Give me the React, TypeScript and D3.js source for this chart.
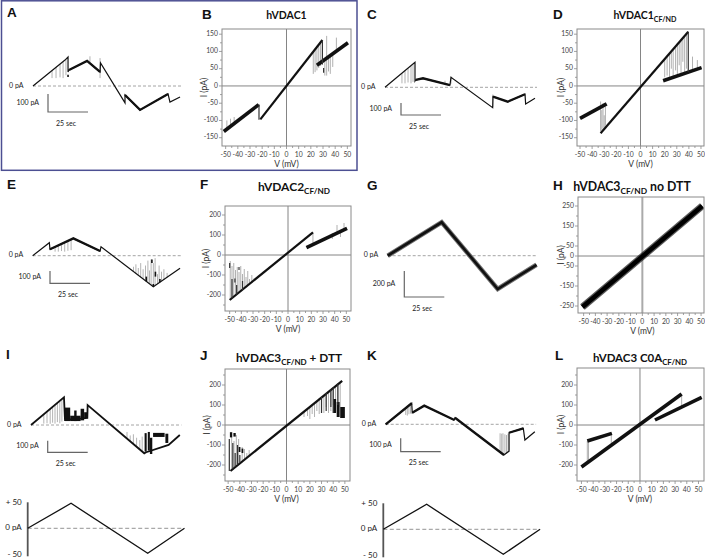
import React from "react";
import * as d3 from "d3";

type P2 = [number, number];
type Spike = [number, number, number];
type Block = [number, number, number, number];

const FONT = "Lato, 'Open Sans', sans-serif";
const LETTER_FONT = "'Liberation Sans', Arial, sans-serif";

// ---------- IV axis ticks ----------
const ivXTicks = [-50, -40, -30, -20, -10, 0, 10, 20, 30, 40, 50];
const ivXMinor = [-45, -35, -25, -15, -5, 5, 15, 25, 35, 45];
const ticks150 = [-150, -100, -50, 0, 50, 100, 150];
const minor150 = [-125, -75, -25, 25, 75, 125];
const ticks200 = [-200, -100, 0, 100, 200];
const minor200 = [-250, -150, -50, 50, 150, 250];
const ticks250 = [-250, -150, -50, 0, 50, 150, 250];
const minor250 = [-200, -100, 100, 200];

// ---------- Voltage protocol (s, mV) ----------
const rampPts: P2[] = [[0, 0], [27.1, 50], [75, -50], [98, 0]];
const rampTicks = [50, 0, -50];
const rampLabels = ["+ 50", "0 pA", "- 50"];

// ---------- Current traces (s, pA) ----------
const traceA: P2[] = [[0, 0], [20, 144], [21.9, 161], [21.9, 78], [22.5, 89], [33.8, 139], [41.9, 78], [42.2, 128], [57.5, -94], [57.5, -50], [66.9, -133], [84.4, -44], [85.6, -89], [91.9, -61]];
const thickA: P2[][] = [[[22.5, 89], [33.8, 139], [41.9, 78]], [[57.5, -50], [66.9, -133], [84.4, -44]]];
const spikesA: Spike[] = [[11.9, 86, 44], [14.4, 104, 44], [16.9, 122, 48], [18.8, 135, 44], [20.6, 148, 60], [35.6, 132, 165], [41.9, 155, 44]];
const darkA: Spike[] = [[21.9, 50, 62]];

const traceC: P2[] = [[0, 0], [18.75, 208], [18.75, 52], [19.2, 61], [23.75, 75], [40.6, 19], [41.25, 83], [67.3, -170], [67.5, -78], [76.7, -120], [87.5, -58], [87.9, -139], [93.75, -92]];
const thickC: P2[][] = [[[19.2, 61], [23.75, 75], [40.6, 19]], [[67.5, -78], [76.7, -120], [87.5, -58]]];
const spikesC: Spike[] = [[10.6, 118, 33], [12.5, 139, 33], [14.4, 160, 40], [16.25, 180, 33], [17.5, 194, 45], [37.5, 26, 55], [41.25, 30, 90], [67.4, -165, -60]];

const traceE: P2[] = [[0, 0], [10.4, 106], [10.8, 52], [25.4, 141], [42.1, 38], [42.7, 73], [75.4, -252], [92.1, -102]];
const thickE: P2[][] = [[[10.8, 52], [25.4, 141], [42.1, 38]]];
const spikesE: Spike[] = [[14, 70, 33], [16, 83, 33], [18, 95, 38], [20, 107, 33], [22, 118, 40], [24, 130, 45], [63, -129, -90], [64.5, -144, -70], [66, -159, -100], [67.5, -174, -60], [69, -189, -110], [70.5, -203, -80], [72, -218, -40], [73, -228, -120], [74, -238, -30], [75.4, -252, -60], [76.5, -242, -20], [78, -229, -150], [79, -220, -80], [80.5, -206, -130], [82, -193, -110], [84, -175, -140]];
const darkE: Spike[] = [[74.5, -30, -60], [76.7, -130, -170], [75.4, -252, -230], [71, -208, -170], [79.5, -215, -190]];

const traceG: P2[] = [[0, 0], [33.75, 257], [68.75, -256], [93, -70]];

const traceI: P2[] = [[0, 0], [20.6, 239], [21.25, 43], [35.2, 60], [35.4, 172], [70.8, -244], [72, -235], [86, -172], [93, -86]];
const blocksI: Block[] = [[21.25, 24.5, 34, 150], [24.5, 31, 34, 80], [27, 28.5, 34, 125], [31, 33.2, 40, 140], [33.2, 35.2, 60, 110], [71, 72.3, -230, -70], [73, 74.3, -220, -60], [74.3, 75.8, -250, -110], [76.3, 83.5, -103, -68], [84, 85.8, -155, -75]];
const spikesI: Spike[] = [[8, 93, 12], [10, 116, 15], [12, 139, 10], [13.5, 157, 20], [15, 174, 12], [16.5, 191, 25], [18, 209, 15], [19.3, 224, 30], [60, -118, -60], [62, -141, -90], [64, -165, -80], [66, -188, -110], [68, -211, -130], [69.5, -229, -100]];

const traceK: P2[] = [[0, 0], [16.25, 157], [16.6, 87], [24.1, 139], [42.9, 32], [43.3, 49], [73.9, -229], [77.1, -200], [77.1, -63], [86, -30], [87, -117], [93.2, -55]];
const thickK: P2[][] = [[[0, 0], [16.25, 157]], [[16.6, 87], [24.1, 139], [42.9, 32]], [[43.3, 49], [73.9, -229]], [[77.1, -63], [86, -30]]];
const spikesK: Spike[] = [[12.5, 121, 70], [13.5, 130, 65], [14.5, 140, 75], [15.5, 150, 80], [71.5, -207, -67], [72.5, -216, -70], [73.3, -224, -67], [74.5, -222, -75], [75.5, -215, -80], [76.5, -208, -70]];

// ---------- IV data (mV, pA) ----------
const bMain: P2[][] = [[[-21.5, -97], [29.5, 133]]];
const bThick: P2[][] = [[[-51.5, -132], [-22.8, -54]], [[25, 60], [50.5, 125]]];
const bDark: Spike[] = [[-22.6, -54, -98], [29.5, 133, 62], [30.5, 38, 52]];
const bSpikes: Spike[] = [[22, 99, 35], [23.5, 106, 40], [25, 112, 45], [26.5, 119, 52], [28, 126, 58], [31.5, 80, 30], [33, 84, 30], [34.5, 88, 42], [36, 92, 35], [38, 96, 55], [33, 84, 145], [41, 103, 140], [-49, -125, -100], [-46, -118, -95], [-43, -110, -90]];

const dMain: P2[][] = [[[-33, -137], [39.5, 157]]];
const dThick: P2[][] = [[[-50, -94], [-28, -52]], [[18.7, 15], [50.5, 53]]];
const dDark: Spike[] = [[39.5, 157, 41]];
const dSpikes: Spike[] = [[20, 79, 25], [22, 87, 30], [24, 95, 20], [25.5, 101, 50], [27, 107, 28], [29, 115, 45], [30.5, 121, 30], [32, 127, 60], [33.5, 133, 33], [35, 139, 70], [36.5, 145, 36], [38, 151, 50], [43, 45, 85], [47, 49, 75], [-33, -131, -45], [-32, -127, -70], [-31, -123, -50], [-30, -119, -85], [-29, -115, -60]];

const fMain: P2[][] = [[[-50, -225], [21.4, 113]]];
const fThick: P2[][] = [[[15.8, 37], [50.6, 133]]];
const fDark: Spike[] = [[-50, -40, -65], [-45.5, -118, -138], [-42, -60, -75], [-48, -216, -120], [-44, -198, -150], [-39, -176, -130]];
const fSpikes: Spike[] = [[-49.5, -223, -30], [-48, -216, -55], [-46.5, -209, -40], [-45, -203, -75], [-43.5, -196, -60], [-42, -189, -85], [-40.5, -182, -55], [-39, -176, -95], [-37.5, -169, -70], [-36, -162, -110], [-34.5, -155, -80], [-33, -149, -120], [-31, -140, -100], [-29, -131, -115], [42, 115, 150], [45, 120, 90], [48, 128, 160], [38, 110, 80], [21.4, 113, 60]];

const hBand: P2[][] = [[[-51, -255], [51, 250]]];

const jMain: P2[][] = [[[-48, -230], [47.7, 221]]];
const jBlocks: Block[] = [[40, 42.5, 60, 130], [43, 45.5, 40, 115], [46, 50, 35, 90], [-48.5, -46.5, -62, -36], [-45.5, -43.5, -58, -40], [-41, -39.5, -135, -110], [-38.5, -37, -140, -118]];
const jSpikes: Spike[] = [[15, 70, 40], [18, 85, 45], [20, 94, 30], [22, 103, 55], [24, 113, 40], [26, 122, 70], [28, 132, 55], [30, 141, 80], [32, 150, 60], [34, 160, 90], [36, 169, 60], [38, 179, 70], [40, 188, 100], [42, 197, 80], [44, 207, 110], [46, 216, 90], [-47, -221, -60], [-45, -212, -80], [-43, -202, -50], [-41, -193, -70], [-38, -179, -110], [-36, -169, -120], [-34, -160, -140], [-32, -150, -125]];
const jDark: Spike[] = [[30, 141, 60], [34, 160, 70], [38, 179, 90], [40, 188, 60], [44, 207, 100], [-49, -230, -70], [-46, -216, -90], [-44, -207, -140], [-42, -197, -100], [-40, -188, -150]];

const lThick: P2[][] = [[[-50, -210], [35.6, 155]], [[12.8, 25], [52.7, 138]], [[-45, -80], [-24, -42]]];
const lSpikes: Spike[] = [[-45, -190, -80], [-44, -186, -78], [35.6, 155, 95], [-24.5, -104, -42]];

// ---------- layout ----------
type TraceCfg = { ox: number; oy: number; ky: number; bx: number; by: number; barUnit: number; barLabel: string; tEnd: number };
type IVCfg = { x0: number; x1: number; y0: number; y1: number; vDom: [number, number]; iDom: [number, number]; yTicks: number[]; yMinor: number[]; title: string; sub?: string; suffix?: string; tx: number; ty: number; tfs: number; ylx: number };

const KX = 1.6;

function TracePanel({ c, trace, thick = [], spikes = [], dark = [], blocks = [], noisy = false, thickAll = false }: { c: TraceCfg; trace: P2[]; thick?: P2[][]; spikes?: Spike[]; dark?: Spike[]; blocks?: Block[]; noisy?: boolean; thickAll?: boolean }) {
  const x = d3.scaleLinear().domain([0, 100]).range([c.ox, c.ox + 100 * KX]);
  const y = d3.scaleLinear().domain([0, 100]).range([c.oy, c.oy - 100 * c.ky]);
  const line = d3.line<P2>().x((d) => x(d[0])).y((d) => y(d[1]));
  const barH = c.barUnit * c.ky;
  const barW = x(25) - x(0);
  return (
    <g>
      <line x1={x(0)} x2={x(c.tEnd)} y1={y(0)} y2={y(0)} stroke="#9a9a9a" strokeWidth={0.9} strokeDasharray="3,2" />
      {spikes.map((s, i) => (
        <line key={"s" + i} x1={x(s[0])} x2={x(s[0])} y1={y(s[1])} y2={y(s[2])} stroke="#a0a0a0" strokeWidth={0.8} />
      ))}
      {blocks.map((b, i) => (
        <rect key={"b" + i} x={x(b[0])} width={x(b[1]) - x(b[0])} y={y(b[3])} height={y(b[2]) - y(b[3])} fill="#111" />
      ))}
      {noisy && <path d={line(trace) || ""} fill="none" stroke="#333" strokeWidth={4.6} strokeOpacity={0.7} />}
      <path d={line(trace) || ""} fill="none" stroke="#111" strokeWidth={noisy ? 2.6 : thickAll ? 1.8 : 1.2} strokeLinejoin="miter" />
      {thick.map((t, i) => (
        <path key={"t" + i} d={line(t) || ""} fill="none" stroke="#111" strokeWidth={2.3} />
      ))}
      {dark.map((s, i) => (
        <line key={"d" + i} x1={x(s[0])} x2={x(s[0])} y1={y(s[1])} y2={y(s[2])} stroke="#111" strokeWidth={1.6} />
      ))}
      <text x={c.ox - 9.5} y={c.oy} textAnchor="end" dominantBaseline="middle" fontFamily={FONT} fontSize={7} fill="#222">0 pA</text>
      <path d={`M${c.bx},${c.by - barH}V${c.by}H${c.bx + barW}`} fill="none" stroke="#666" strokeWidth={1.2} />
      <text x={c.bx - 9} y={c.by - barH / 2} textAnchor="end" dominantBaseline="middle" fontFamily={FONT} fontSize={7} fill="#222">{c.barLabel}</text>
      <text x={c.bx + 18} y={c.by + 12} textAnchor="middle" dominantBaseline="middle" fontFamily={FONT} fontSize={7} fill="#222">25 sec</text>
    </g>
  );
}

function Ramp({ ox, oy, tEnd }: { ox: number; oy: number; tEnd: number }) {
  const x = d3.scaleLinear().domain([0, 100]).range([ox, ox + 100 * KX]);
  const y = d3.scaleLinear().domain([-50, 50]).range([oy + 25, oy - 25]);
  const line = d3.line<P2>().x((d) => x(d[0])).y((d) => y(d[1]));
  return (
    <g>
      <line x1={x(0)} x2={x(tEnd)} y1={y(0)} y2={y(0)} stroke="#888" strokeWidth={0.9} strokeDasharray="4,2.5" />
      <line x1={x(0)} x2={x(0)} y1={y(50) - 1} y2={y(-50) + 3} stroke="#555" strokeWidth={1.8} />
      <path d={line(rampPts) || ""} fill="none" stroke="#111" strokeWidth={1.3} />
      {rampTicks.map((v, i) => (
        <text key={i} x={ox - 6} y={y(v) + (v < 0 ? 1.5 : 0)} textAnchor="end" dominantBaseline="middle" fontFamily={FONT} fontSize={8} fill="#222">{rampLabels[i]}</text>
      ))}
    </g>
  );
}

function IVPanel({ c, main = [], thick = [], spikes = [], dark = [], blocks = [], band = [] }: { c: IVCfg; main?: P2[][]; thick?: P2[][]; spikes?: Spike[]; dark?: Spike[]; blocks?: Block[]; band?: P2[][] }) {
  const xs = d3.scaleLinear().domain(c.vDom).range([c.x0, c.x1]);
  const ys = d3.scaleLinear().domain(c.iDom).range([c.y1, c.y0]);
  const line = d3.line<P2>().x((d) => xs(d[0])).y((d) => ys(d[1]));
  const isH = band.length > 0;
  const clipId = "clip" + c.x0 + "_" + c.y0;
  return (
    <g>
      <defs>
        <clipPath id={clipId}>
          <rect x={c.x0} y={c.y0} width={c.x1 - c.x0} height={c.y1 - c.y0} />
        </clipPath>
      </defs>
      <line x1={xs(0)} x2={xs(0)} y1={c.y0} y2={c.y1} stroke={isH ? "#aaa" : "#777"} strokeWidth={isH ? 2 : 0.9} />
      <line x1={c.x0} x2={c.x1} y1={ys(0)} y2={ys(0)} stroke="#777" strokeWidth={0.9} />
      <g clipPath={`url(#${clipId})`}>
        {spikes.map((s, i) => (
          <line key={"s" + i} x1={xs(s[0])} x2={xs(s[0])} y1={ys(s[1])} y2={ys(s[2])} stroke="#9d9d9d" strokeWidth={0.8} />
        ))}
        {blocks.map((b, i) => (
          <rect key={"b" + i} x={xs(b[0])} width={xs(b[1]) - xs(b[0])} y={ys(b[3])} height={ys(b[2]) - ys(b[3])} fill="#111" />
        ))}
        {band.map((t, i) => (
          <g key={"h" + i}>
            <path d={line(t) || ""} fill="none" stroke="#222" strokeWidth={7} strokeOpacity={0.75} />
            <path d={line(t) || ""} fill="none" stroke="#000" strokeWidth={4.5} />
          </g>
        ))}
        {main.map((t, i) => (
          <path key={"m" + i} d={line(t) || ""} fill="none" stroke="#111" strokeWidth={2.2} />
        ))}
        {thick.map((t, i) => (
          <path key={"t" + i} d={line(t) || ""} fill="none" stroke="#111" strokeWidth={3.6} />
        ))}
        {dark.map((s, i) => (
          <line key={"d" + i} x1={xs(s[0])} x2={xs(s[0])} y1={ys(s[1])} y2={ys(s[2])} stroke="#333" strokeWidth={1.2} />
        ))}
      </g>
      <rect x={c.x0} y={c.y0} width={c.x1 - c.x0} height={c.y1 - c.y0} fill="none" stroke="#8a8a8a" strokeWidth={1} />
      {c.yTicks.map((t) => (
        <g key={"yt" + t}>
          <line x1={c.x0 - 3} x2={c.x0} y1={ys(t)} y2={ys(t)} stroke="#8a8a8a" strokeWidth={0.8} />
          <text x={c.x0 - 4} y={ys(t)} textAnchor="end" dominantBaseline="middle" fontFamily={FONT} fontSize={6.8} fill="#444">{t}</text>
        </g>
      ))}
      {c.yMinor.filter((t) => t > c.iDom[0] && t < c.iDom[1]).map((t) => (
        <line key={"ym" + t} x1={c.x0 - 2} x2={c.x0} y1={ys(t)} y2={ys(t)} stroke="#8a8a8a" strokeWidth={0.8} />
      ))}
      {ivXTicks.map((t) => (
        <g key={"xt" + t}>
          <line x1={xs(t)} x2={xs(t)} y1={c.y1} y2={c.y1 + 3} stroke="#8a8a8a" strokeWidth={0.8} />
          <text x={xs(t)} y={c.y1 + 9} textAnchor="middle" dominantBaseline="middle" fontFamily={FONT} fontSize={6.8} fill="#444">{t}</text>
        </g>
      ))}
      {ivXMinor.map((t) => (
        <line key={"xm" + t} x1={xs(t)} x2={xs(t)} y1={c.y1} y2={c.y1 + 2} stroke="#8a8a8a" strokeWidth={0.8} />
      ))}
      <text x={xs(0)} y={c.y1 + 19} textAnchor="middle" dominantBaseline="middle" fontFamily={FONT} fontSize={8.5} fill="#333">V (mV)</text>
      <text transform={`translate(${c.ylx},${(c.y0 + c.y1) / 2}) rotate(-90)`} textAnchor="middle" dominantBaseline="middle" fontFamily={FONT} fontSize={8.5} fill="#333">I (pA)</text>
      <text x={c.tx} y={c.ty} textAnchor="middle" fontFamily={FONT} fontWeight="bold" fontSize={c.tfs} fill="#111">
        <tspan>{c.title}</tspan>
        {c.sub && <tspan fontSize={c.tfs * 0.68} dy={c.tfs * 0.25}>{c.sub}</tspan>}
        {c.suffix && <tspan dy={-c.tfs * 0.25}>{c.suffix}</tspan>}
      </text>
    </g>
  );
}

const cfgA: TraceCfg = { ox: 33, oy: 86, ky: 0.18, bx: 48, by: 112, barUnit: 100, barLabel: "100 pA", tEnd: 93 };
const cfgC: TraceCfg = { ox: 385, oy: 87.3, ky: 0.12, bx: 401, by: 115, barUnit: 100, barLabel: "100 pA", tEnd: 95 };
const cfgE: TraceCfg = { ox: 32.7, oy: 255.7, ky: 0.123, bx: 50, by: 283.3, barUnit: 100, barLabel: "100 pA", tEnd: 93 };
const cfgG: TraceCfg = { ox: 387.7, oy: 255.7, ky: 0.13, bx: 404.3, by: 297, barUnit: 200, barLabel: "200 pA", tEnd: 93 };
const cfgI: TraceCfg = { ox: 31, oy: 425, ky: 0.116, bx: 47.7, by: 452.3, barUnit: 100, barLabel: "100 pA", tEnd: 94 };
const cfgK: TraceCfg = { ox: 385.7, oy: 424.3, ky: 0.134, bx: 400.7, by: 451.7, barUnit: 100, barLabel: "100 pA", tEnd: 94 };

const cfgB: IVCfg = { x0: 222, x1: 351, y0: 29, y1: 146, vDom: [-53, 53], iDom: [-174, 165], yTicks: ticks150, yMinor: minor150, title: "hVDAC1", tx: 286.5, ty: 19, tfs: 10.5, ylx: 205 };
const cfgD: IVCfg = { x0: 577, x1: 704, y0: 29, y1: 146, vDom: [-52.5, 52.5], iDom: [-174, 165], yTicks: ticks150, yMinor: minor150, title: "hVDAC1", sub: "CF/ND", tx: 645, ty: 19, tfs: 10.5, ylx: 561.5 };
const cfgF: IVCfg = { x0: 225, x1: 351, y0: 206, y1: 311, vDom: [-54, 54], iDom: [-280, 245], yTicks: ticks200, yMinor: minor200, title: "hVDAC2", sub: "CF/ND", tx: 294, ty: 191, tfs: 12, ylx: 206.5 };
const cfgH: IVCfg = { x0: 578, x1: 704, y0: 197, y1: 313, vDom: [-54.8, 52.5], iDom: [-285, 295], yTicks: ticks250, yMinor: minor250, title: "hVDAC3", sub: "CF/ND", suffix: " no DTT", tx: 632, ty: 191, tfs: 12.3, ylx: 561.5 };
const cfgJ: IVCfg = { x0: 225, x1: 350, y0: 369, y1: 481, vDom: [-52.7, 54.4], iDom: [-280, 280], yTicks: ticks200, yMinor: minor200, title: "hVDAC3", sub: "CF/ND", suffix: " + DTT", tx: 289, ty: 362, tfs: 11.8, ylx: 208 };
const cfgL: IVCfg = { x0: 577, x1: 704, y0: 368, y1: 481, vDom: [-53.8, 54.7], iDom: [-280, 285], yTicks: ticks200, yMinor: minor200, title: "hVDAC3 C0A", sub: "CF/ND", tx: 640, ty: 362, tfs: 11.5, ylx: 562 };

const letters: [string, number, number][] = [
  ["A", 7, 17], ["B", 202, 18.5], ["C", 367, 18.5], ["D", 553, 18.5],
  ["E", 7, 189], ["F", 200, 189], ["G", 367, 190], ["H", 553, 190],
  ["I", 6, 359], ["J", 200, 360], ["K", 367, 360], ["L", 555, 360],
];

export default function App() {
  return (
    <svg width={705} height={560} style={{ position: "absolute", left: 0, top: 0, background: "#fff" }}>
      <rect x={0} y={0} width={705} height={560} fill="#fff" />
      <rect x={1.5} y={0.8} width={355.5} height={169.5} fill="none" stroke="#4c4f92" strokeWidth={1.5} />
      {letters.map(([t, x, y]) => (
        <text key={t} x={x} y={y} fontFamily={LETTER_FONT} fontWeight="bold" fontSize={13.5} fill="#111">{t}</text>
      ))}
      <TracePanel c={cfgA} trace={traceA} thick={thickA} spikes={spikesA} dark={darkA} />
      <TracePanel c={cfgC} trace={traceC} thick={thickC} spikes={spikesC} />
      <TracePanel c={cfgE} trace={traceE} thick={thickE} spikes={spikesE} dark={darkE} />
      <TracePanel c={cfgG} trace={traceG} noisy />
      <TracePanel c={cfgI} trace={traceI} spikes={spikesI} blocks={blocksI} thickAll />
      <TracePanel c={cfgK} trace={traceK} thick={thickK} spikes={spikesK} />
      <Ramp ox={27.7} oy={528.3} tEnd={96} />
      <Ramp ox={383.3} oy={529.3} tEnd={96} />
      <IVPanel c={cfgB} main={bMain} thick={bThick} spikes={bSpikes} dark={bDark} />
      <IVPanel c={cfgD} main={dMain} thick={dThick} spikes={dSpikes} dark={dDark} />
      <IVPanel c={cfgF} main={fMain} thick={fThick} spikes={fSpikes} dark={fDark} />
      <IVPanel c={cfgH} band={hBand} />
      <IVPanel c={cfgJ} main={jMain} spikes={jSpikes} blocks={jBlocks} dark={jDark} />
      <IVPanel c={cfgL} thick={lThick} spikes={lSpikes} />
    </svg>
  );
}
